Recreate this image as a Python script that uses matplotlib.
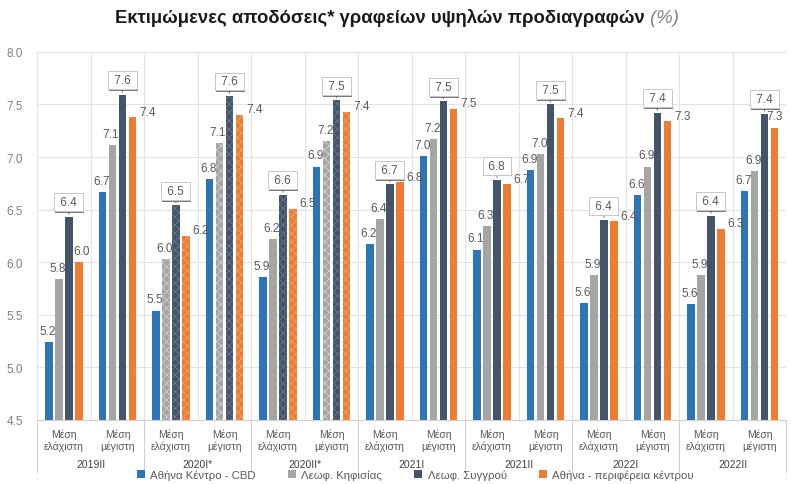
import matplotlib
matplotlib.use("Agg")
import matplotlib.pyplot as plt
import matplotlib.patheffects as pe
import numpy as np

plt.rcParams['font.family'] = ['Liberation Sans', 'DejaVu Sans']
plt.rcParams['hatch.linewidth'] = 0.5

periods = ["2019II", "2020I*", "2020II*", "2021I", "2021II", "2022I", "2022II"]
sub_labels = ["Μέση\nελάχιστη", "Μέση\nμέγιστη"]
series_names = ["Αθήνα Κέντρο - CBD", "Λεωφ. Κηφισίας", "Λεωφ. Συγγρού",
                "Αθήνα - περιφέρεια κέντρου"]

# yields per category: (period, min / max) in order
cbd        = [5.24, 6.67, 5.54, 6.79, 5.86, 6.91, 6.17, 7.01, 6.12, 6.88, 5.61, 6.64, 5.60, 6.68]
kifisias   = [5.84, 7.11, 6.03, 7.13, 6.22, 7.15, 6.41, 7.17, 6.34, 7.03, 5.88, 6.91, 5.88, 6.87]
syggrou    = [6.43, 7.59, 6.54, 7.58, 6.64, 7.54, 6.74, 7.53, 6.78, 7.50, 6.40, 7.42, 6.44, 7.41]
periphery  = [6.00, 7.38, 6.25, 7.40, 6.51, 7.43, 6.76, 7.46, 6.74, 7.37, 6.39, 7.34, 6.32, 7.28]

# categories drawn with a textured fill, per series
textured = {0: [], 1: [2, 3, 5], 2: [2, 3, 4, 5], 3: [2, 3, 4, 5]}

colors = ["#2E75B6", "#A5A5A5", "#44546A", "#ED7D31"]
hatch_colors = ["#2E75B6", "#D4D4D4", "#6E7D94", "#F3A670"]
label_color = "#595959"
fs = 8.5

fig = plt.figure(figsize=(7.91, 4.85), dpi=100)
ax = fig.add_axes([0.047, 0.132, 0.947, 0.759])

n_cat = len(cbd)
x = np.arange(n_cat)
step = 0.185
width = 0.14
data = [cbd, kifisias, syggrou, periphery]

for s, (vals, col) in enumerate(zip(data, colors)):
    xs = x + (s - 1.5) * step
    bars = ax.bar(xs, vals, width=width, color=col, label=series_names[s],
                  zorder=3, linewidth=0)
    for i in textured[s]:
        bars[i].set_hatch("xxxx")
        bars[i].set_edgecolor(hatch_colors[s])
        bars[i].set_linewidth(0)

    for i, (xi, v) in enumerate(zip(xs, vals)):
        lab = f"{v:.1f}"
        if s in (0, 1):
            ax.annotate(lab, (xi, v), xytext=(-1, 8), textcoords="offset points",
                        ha="center", va="center", fontsize=fs, color=label_color,
                        zorder=5)
        elif s == 2:
            ax.annotate("", (xi, v), xytext=(0, 6), textcoords="offset points",
                        arrowprops=dict(arrowstyle="-", color="#7F7F7F", lw=0.8),
                        zorder=4)
            t = ax.annotate(f" {lab} ", (xi, v), xytext=(0, 10.5),
                            textcoords="offset points",
                            ha="center", va="center", fontsize=fs, color=label_color,
                            zorder=6,
                            bbox=dict(boxstyle="square,pad=0.25", fc="white",
                                      ec="#C8C8C8", lw=0.7))
            t.get_bbox_patch().set_path_effects(
                [pe.SimplePatchShadow(offset=(0.6, -1.4), shadow_rgbFace="#404040",
                                      alpha=0.7), pe.Normal()])
        else:
            if i == 0:
                ax.annotate(lab, (xi, v), xytext=(2, 8), textcoords="offset points",
                            ha="center", va="center", fontsize=fs,
                            color=label_color, zorder=5)
            elif i == n_cat - 1:
                ax.annotate(lab, (xi, v), xytext=(0, 8), textcoords="offset points",
                            ha="center", va="center", fontsize=fs,
                            color=label_color, zorder=5)
            else:
                ax.annotate(lab, (xi, v), xytext=(5, 4), textcoords="offset points",
                            ha="left", va="center", fontsize=fs,
                            color=label_color, zorder=5)

ax.set_xlim(-0.5, n_cat - 0.5)
ax.set_ylim(4.5, 8.0)
ax.set_yticks(np.arange(4.5, 8.01, 0.5))
ax.set_yticklabels([f"{v:.1f}" for v in np.arange(4.5, 8.01, 0.5)])
ax.tick_params(axis="y", length=0, labelsize=8.5, labelcolor="#7F7F7F", pad=10)

ax.set_xticks(x)
ax.set_xticklabels([sub_labels[i % 2] for i in range(n_cat)], fontsize=7.5,
                   color=label_color, linespacing=1.15)
ax.tick_params(axis="x", length=0, pad=6)

# grid: horizontal at ticks, vertical at category boundaries
ax.grid(axis="y", color="#E3E3E3", lw=0.8, zorder=0)
for b in np.arange(-0.5, n_cat, 1.0):
    ax.axvline(b, color="#E3E3E3", lw=0.8, zorder=0)

for sp in ["top", "right", "left"]:
    ax.spines[sp].set_visible(False)
ax.spines["bottom"].set_color("#D0D0D0")

# period separators and labels below the axis
trans = ax.get_xaxis_transform()
for b in np.arange(-0.5, n_cat, 2.0):
    ax.plot([b, b], [0, -0.14], transform=trans, color="#D0D0D0", lw=0.8,
            clip_on=False)
for k, p in enumerate(periods):
    ax.text(2 * k + 0.5, -0.12, p, transform=trans, ha="center", va="center",
            fontsize=7.5, color="#404040")

leg = fig.legend(loc="lower center", bbox_to_anchor=(0.525, -0.012), ncol=4,
                 frameon=False, fontsize=8.2, handlelength=0.7, handleheight=0.7,
                 columnspacing=2.8, handletextpad=0.5)
for txt in leg.get_texts():
    txt.set_color(label_color)

title = fig.text(0.48, 0.962, "Εκτιμώμενες αποδόσεις* γραφείων υψηλών προδιαγραφών",
                 ha="center", va="center", fontsize=13.3, fontweight="bold",
                 color="#1A1A1A")
ax.annotate(" (%)", xy=(1, 0), xycoords=title, va="bottom", ha="left",
            fontsize=13.3, style="italic", color="#7F7F7F", annotation_clip=False)

fig.savefig("out.png", dpi=100)
